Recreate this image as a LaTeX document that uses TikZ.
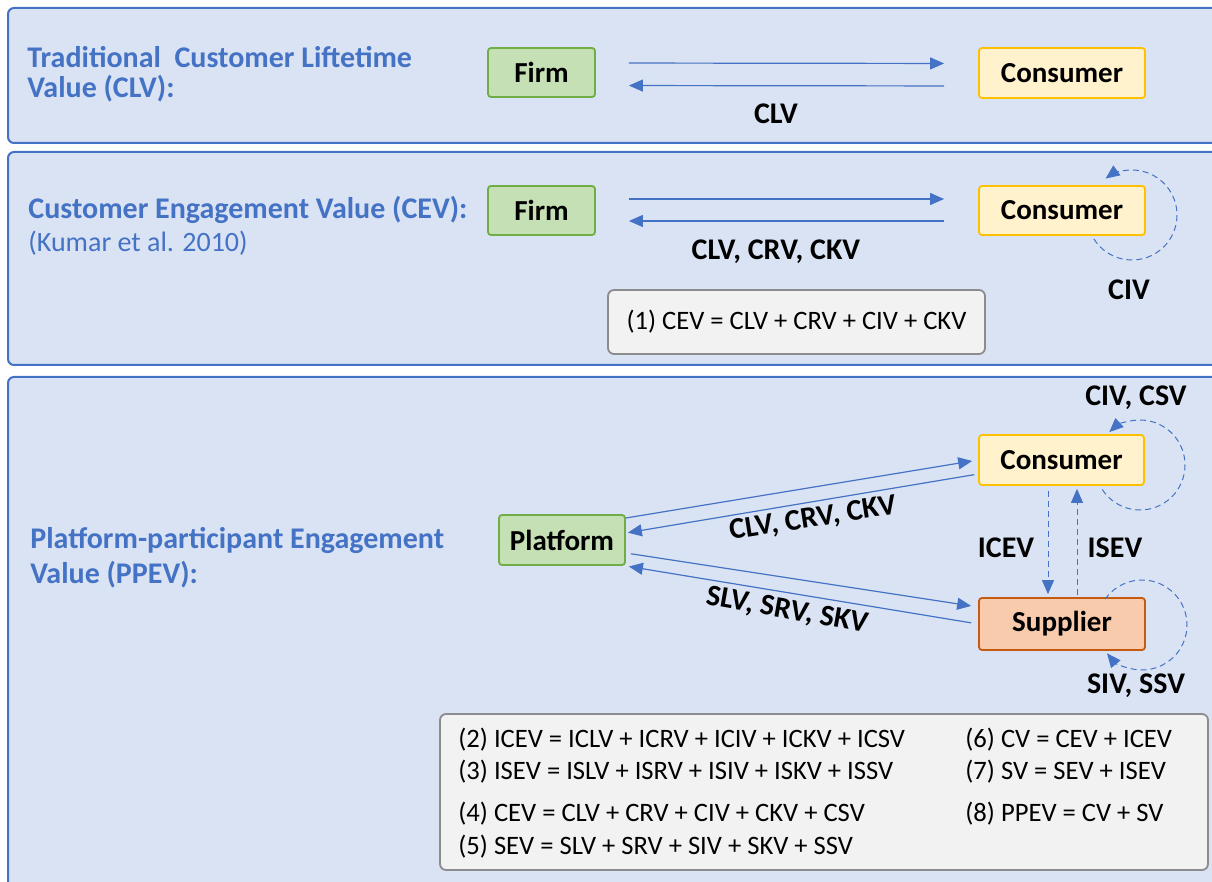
\documentclass[tikz,border=0pt]{standalone}
\usepackage{fontspec}
\setmainfont{Carlito}
\usetikzlibrary{arrows.meta}

\definecolor{panelfill}{HTML}{DAE3F3}
\definecolor{panelline}{HTML}{4472C4}
\definecolor{greenfill}{HTML}{C5E0B4}
\definecolor{greenline}{HTML}{70AD47}
\definecolor{yellowfill}{HTML}{FFF2CC}
\definecolor{yellowline}{HTML}{FFC000}
\definecolor{orangefill}{HTML}{F8CBAD}
\definecolor{orangeline}{HTML}{C55A11}
\definecolor{eqfill}{HTML}{F2F2F2}
\definecolor{eqline}{HTML}{8C8C8C}
\definecolor{arrowblue}{HTML}{4472C4}

\tikzset{
    panel/.style={draw=panelline, fill=panelfill, line width=1pt, rounded corners=3pt},
    actor/.style={rectangle, rounded corners=1.5pt, line width=0.9pt, inner sep=0pt,
        font=\bfseries\fontsize{14.5}{16}\selectfont},
    firmbox/.style={actor, draw=greenline, fill=greenfill},
    consbox/.style={actor, draw=yellowline, fill=yellowfill},
    suppbox/.style={actor, draw=orangeline, fill=orangefill},
    eqbox/.style={rectangle, rounded corners=3pt, draw=eqline, fill=eqfill, line width=0.9pt},
    eqtext/.style={inner sep=0pt, anchor=west, font=\fontsize{13.3}{15}\selectfont},
    paneltitle/.style={inner sep=0pt, anchor=west, align=left, text=panelline},
    flowlabel/.style={inner sep=0pt, font=\bfseries\fontsize{15}{16}\selectfont},
    flow/.style={-{Triangle[length=7pt,width=6pt]}, draw=arrowblue, line width=0.6pt},
    loopflow/.style={flow, dash pattern=on 3pt off 2pt, line width=0.5pt}
}

\begin{document}
\begin{tikzpicture}[x=0.5pt, y=-0.5pt]
    \clip (0,0) rectangle (1212,882);

    % Three panels
    \draw[panel] (8,8) rectangle (1240,143);
    \draw[panel] (8,152) rectangle (1240,365);
    \draw[panel] (8,377) rectangle (1240,900);

    % Panel titles
    \node[paneltitle, font=\bfseries\fontsize{15}{15}\selectfont] (title1) at (27,74)
        {Traditional\ \ Customer Liftetime\\Value (CLV):};
    \node[paneltitle, font=\bfseries\fontsize{15}{16.5}\selectfont] (title2) at (28,226)
        {Customer Engagement Value (CEV):\\\mdseries\fontsize{14}{16.5}\selectfont(Kumar et al. 2010)};
    \node[paneltitle, font=\bfseries\fontsize{15}{17.5}\selectfont] (title3) at (30,558)
        {Platform-participant Engagement\\Value (PPEV):};

    % Traditional CLV
    \node[firmbox, minimum width=53.5pt, minimum height=24.5pt] (firm1) at (541.5,72.5) {Firm};
    \node[consbox, minimum width=83pt, minimum height=25pt] (cons1) at (1062,73) {Consumer};
    \draw[flow, shorten <=16.5pt, shorten >=17pt] ([yshift=4.75pt]firm1.east) -- ([yshift=4.75pt]cons1.west);
    \draw[flow, shorten <=17pt, shorten >=16.5pt] ([yshift=-6.5pt]cons1.west) -- ([yshift=-6.5pt]firm1.east);
    \node[flowlabel] (clv1) at (776,114) {CLV};

    % Customer engagement value
    \node[firmbox, minimum width=53.5pt, minimum height=24.5pt] (firm2) at (541.5,210.5) {Firm};
    \node[consbox, minimum width=83pt, minimum height=24.5pt] (cons2) at (1062,210.5) {Consumer};
    \draw[flow, shorten <=16.5pt, shorten >=17pt] ([yshift=5.75pt]firm2.east) -- ([yshift=5.75pt]cons2.west);
    \draw[flow, shorten <=17pt, shorten >=16.5pt] ([yshift=-5.25pt]cons2.west) -- ([yshift=-5.25pt]firm2.east);
    \node[flowlabel] (clv2) at (776,252) {CLV, CRV, CKV};
    \coordinate (civloop) at (1132,215);
    \draw[loopflow] (civloop) ++(148:45) arc[start angle=148, end angle=-126, radius=45];
    \node[flowlabel] (civ2) at (1129,290) {CIV};
    \node[eqbox, minimum width=188.5pt, minimum height=32pt] (eqone) at (796.5,322) {};
    \node[eqtext, anchor=center] (eq1) at (eqone) {(1) CEV = CLV + CRV + CIV + CKV};

    % Platform-participant engagement value
    \node[firmbox, minimum width=63pt, minimum height=25pt] (plat) at (562,540) {Platform};
    \node[consbox, minimum width=82.5pt, minimum height=25pt] (cons3) at (1061.5,460) {Consumer};
    \node[suppbox, minimum width=83pt, minimum height=26pt] (supp) at (1062,624) {Supplier};

    % Platform <-> consumer and supplier
    \draw[flow, shorten >=3pt] ([yshift=11pt]plat.east) -- (cons3.west);
    \draw[flow, shorten <=2pt, shorten >=1pt] ([yshift=-7pt]cons3.west) -- ([yshift=3.5pt]plat.east);
    \draw[flow, shorten <=2.5pt, shorten >=3.5pt] ([yshift=-6.5pt]plat.east) -- ([yshift=8.5pt]supp.west);
    \draw[flow, shorten <=3.5pt, shorten >=1.5pt] (supp.west) -- ([yshift=-13pt]plat.east);
    \node[flowlabel, rotate=9] (clv3) at (813,519) {CLV, CRV, CKV};
    \node[flowlabel, rotate=-10] (slv3) at (787,611) {SLV, SRV, SKV};

    % Consumer <-> supplier
    \draw[loopflow, shorten <=2.5pt, shorten >=1.5pt] ([xshift=-6.75pt]cons3.south) -- ([xshift=-7pt]supp.north);
    \draw[loopflow, shorten <=1pt, shorten >=1.5pt] ([xshift=7.5pt]supp.north) -- ([xshift=7.75pt]cons3.south);
    \node[flowlabel] (icev) at (1006,548) {ICEV};
    \node[flowlabel] (isev) at (1115,548) {ISEV};

    % Self loops
    \coordinate (consloop) at (1140,465);
    \draw[loopflow] (consloop) ++(147:45) arc[start angle=147, end angle=-133, radius=45];
    \node[flowlabel] (civcsv) at (1136,398) {CIV, CSV};
    \coordinate (supploop) at (1142,625);
    \draw[loopflow] (supploop) ++(-145:45) arc[start angle=-145, end angle=141, radius=45];
    \node[flowlabel] (sivssv) at (1136,686) {SIV, SSV};

    % Equations
    \node[eqbox, minimum width=384pt, minimum height=78pt] (eqall) at (824,792) {};
    \node[eqtext] (eq2) at (458,740) {(2) ICEV = ICLV + ICRV + ICIV + ICKV + ICSV};
    \node[eqtext] (eq3) at (458,772) {(3) ISEV = ISLV + ISRV + ISIV + ISKV + ISSV};
    \node[eqtext] (eq4) at (458,814) {(4) CEV = CLV + CRV + CIV + CKV + CSV};
    \node[eqtext] (eq5) at (458,847) {(5) SEV = SLV + SRV + SIV + SKV + SSV};
    \node[eqtext] (eq6) at (965,740) {(6) CV = CEV + ICEV};
    \node[eqtext] (eq7) at (965,772) {(7) SV = SEV + ISEV};
    \node[eqtext] (eq8) at (965,814) {(8) PPEV = CV + SV};
\end{tikzpicture}
\end{document}
